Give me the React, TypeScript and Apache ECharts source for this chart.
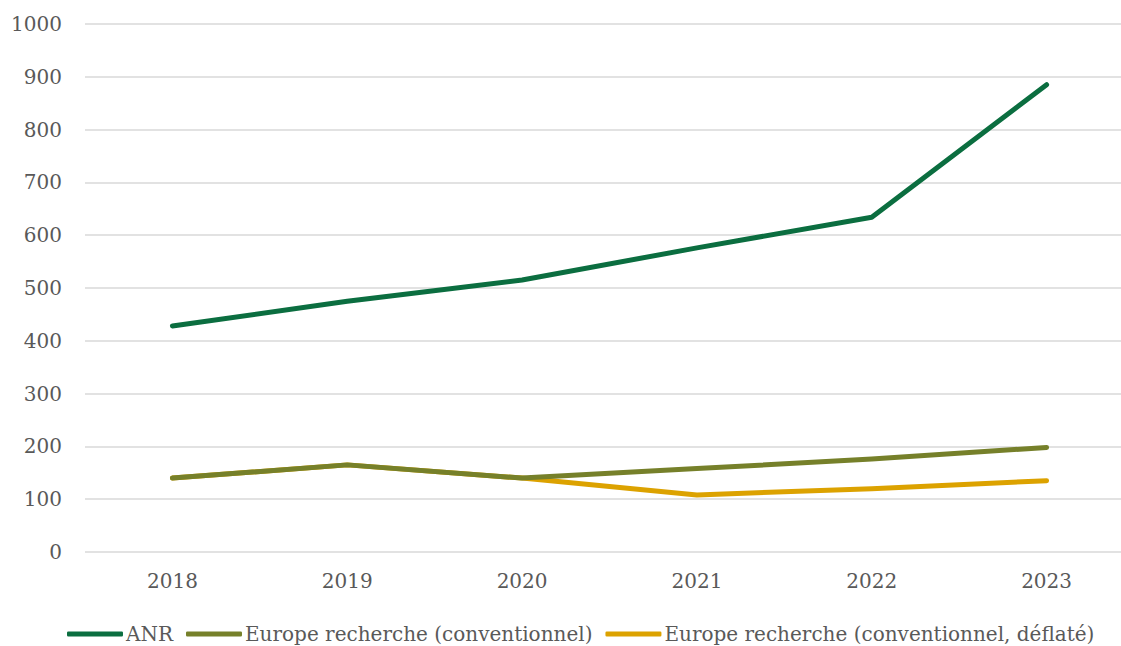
import React, { useEffect, useRef } from "react";
import * as echarts from "echarts";

const years = ["2018", "2019", "2020", "2021", "2022", "2023"];
const anr = [428, 475, 515, 576, 634, 885];
const europeConv = [140, 165, 140, 158, 176, 198];
const europeDefl = [140, 165, 140, 108, 120, 135];
const seriesNames = [
  "ANR",
  "Europe recherche (conventionnel)",
  "Europe recherche (conventionnel, déflaté)",
];
const colors = ["#0b6e40", "#76802a", "#dca200"];

const FONT = "DejaVu Serif";

export default function App() {
  const ref = useRef<HTMLDivElement>(null);
  useEffect(() => {
    if (!ref.current) return;
    const chart = echarts.init(ref.current, null, { renderer: "svg" });
    const data = [anr, europeConv, europeDefl];
    chart.setOption({
      animation: false,
      textStyle: { fontFamily: FONT },
      grid: { left: 85, right: 0, top: 24, bottom: 94, containLabel: false },
      legend: {
        top: 619,
        left: 62,
        itemWidth: 56,
        itemHeight: 5,
        itemGap: 13,
        textStyle: { fontFamily: FONT, fontSize: 20, color: "#595959", padding: [0, 0, 0, -2] },
        data: seriesNames.map((n, i) => ({
          name: n,
          icon: "roundRect",
          itemStyle: { color: colors[i] },
        })),
      },
      xAxis: {
        type: "category",
        data: years,
        boundaryGap: true,
        axisLine: { show: false },
        axisTick: { show: false },
        axisLabel: { fontFamily: FONT, fontSize: 20, color: "#595959", margin: 19 },
      },
      yAxis: {
        type: "value",
        min: 0,
        max: 1000,
        interval: 100,
        axisLine: { show: false },
        axisTick: { show: false },
        splitLine: { lineStyle: { color: "#d9d9d9", width: 1.5 } },
        axisLabel: {
          fontFamily: FONT,
          fontSize: 20,
          color: "#595959",
          margin: 23,
          formatter: (v: number) => String(v),
        },
      },
      series: seriesNames.map((n, i) => ({
        name: n,
        type: "line",
        data: data[i],
        symbol: "none",
        z: 10 - i,
        lineStyle: { color: colors[i], width: 5, cap: "round", join: "round" },
        itemStyle: { color: colors[i] },
      })),
    });
    return () => chart.dispose();
  }, []);
  return (
    <>
      <style>{"html,body{margin:0;padding:0;overflow:hidden;}"}</style>
      <div style={{ width: 1121, height: 646, overflow: "hidden", position: "relative" }}>
        <div ref={ref} style={{ width: 1134, height: 646, position: "absolute", left: 0, top: 0 }} />
      </div>
    </>
  );
}
